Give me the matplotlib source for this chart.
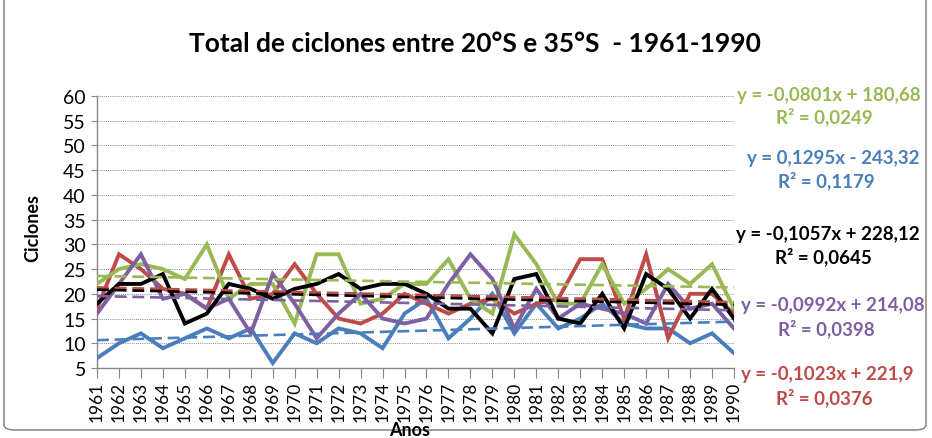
import numpy as np
import matplotlib
matplotlib.use("Agg")
import matplotlib.pyplot as plt
from matplotlib.patches import FancyBboxPatch

plt.rcParams['font.family'] = ['Lato', 'DejaVu Sans']

# Anos (categorias) e numero de ciclones por serie
anos = [1961, 1962, 1963, 1964, 1965, 1966, 1967, 1968, 1969, 1970,
        1971, 1972, 1973, 1974, 1975, 1976, 1977, 1978, 1979, 1980,
        1981, 1982, 1983, 1984, 1985, 1986, 1987, 1988, 1989, 1990]

verde = [22, 25, 26, 25, 23, 30, 19, 22, 22, 14, 28, 28, 18, 19, 22,
         22, 27, 19, 16, 32, 26, 18, 18, 26, 18, 21, 25, 22, 26, 17]
azul = [7, 10, 12, 9, 11, 13, 11, 13, 6, 12, 10, 13, 12, 9, 16,
        19, 11, 15, 20, 12, 18, 13, 15, 18, 14, 13, 13, 10, 12, 8]
preto = [18, 22, 22, 24, 14, 16, 22, 21, 19, 21, 22, 24, 21, 22, 22,
         20, 17, 17, 12, 23, 24, 15, 14, 20, 13, 24, 21, 15, 21, 15]
roxo = [16, 22, 28, 19, 20, 17, 19, 12, 24, 18, 11, 16, 20, 15, 14,
        15, 22, 28, 23, 13, 21, 15, 18, 17, 16, 14, 22, 17, 18, 13]
vermelho = [17, 28, 25, 21, 20, 17, 28, 19, 20, 26, 20, 15, 14, 16, 20,
            18, 16, 18, 19, 16, 18, 19, 27, 27, 15, 28, 11, 20, 20, 16]

# coeficientes das linhas de tendencia (como impressos no grafico)
inclinacoes = {"azul": 0.1295, "vermelho": -0.1023, "verde": -0.0801,
               "roxo": -0.0992, "preto": -0.1057}
interceptos = {"azul": -243.32, "vermelho": 221.9, "verde": 180.68,
               "roxo": 214.08, "preto": 228.12}
equacoes = {"verde": ("y = -0,0801x + 180,68", "R² = 0,0249"),
            "azul": ("y = 0,1295x - 243,32", "R² = 0,1179"),
            "preto": ("y = -0,1057x + 228,12", "R² = 0,0645"),
            "roxo": ("y = -0,0992x + 214,08", "R² = 0,0398"),
            "vermelho": ("y = -0,1023x + 221,9", "R² = 0,0376")}

cores = {"azul": "#4A7EBB", "vermelho": "#BE4B48", "verde": "#98B954",
         "roxo": "#7D60A0", "preto": "#000000"}
series = {"azul": azul, "vermelho": vermelho, "verde": verde,
          "roxo": roxo, "preto": preto}

W, H = 932, 439
fig = plt.figure(figsize=(W / 100, H / 100), dpi=100)

# moldura do grafico
moldura = FancyBboxPatch((4 / W, 8 / H), 922 / W, 440 / H,
                         boxstyle="round,pad=0,rounding_size=0.012",
                         transform=fig.transFigure, fill=False,
                         edgecolor="#8C8C8C", linewidth=1.2, clip_on=False)
fig.patches.append(moldura)

ax = fig.add_axes([97 / W, 1 - 369 / H, (734 - 97) / W, (369 - 97) / H])

x = np.array(anos)
for nome in ["azul", "vermelho", "verde", "roxo", "preto"]:
    ax.plot(x, series[nome], color=cores[nome], linewidth=2.8,
            solid_joinstyle="miter", zorder=3)
for nome in ["azul", "vermelho", "verde", "roxo", "preto"]:
    tend = inclinacoes[nome] * x + interceptos[nome]
    ax.plot(x, tend, color=cores[nome], linewidth=1.9,
            linestyle=(0, (4.5, 2.2)), zorder=4)

ax.set_xlim(1961, 1990)
ax.set_ylim(5, 60)
ax.set_yticks(range(5, 61, 5))
ax.set_xticks(anos)
ax.set_xticklabels([str(a) for a in anos], rotation=90, fontsize=12.5)
ax.tick_params(axis="y", labelsize=14, length=4, color="#868686", pad=4)
ax.tick_params(axis="x", length=7, color="#868686", pad=2)
ax.grid(axis="y", color="#868686", linestyle=(0, (1, 1.2)), linewidth=0.7)
ax.set_axisbelow(True)
for lado in ["top", "right"]:
    ax.spines[lado].set_visible(False)
for lado in ["left", "bottom"]:
    ax.spines[lado].set_color("#868686")
    ax.spines[lado].set_linewidth(1.0)

fig.text(475 / W, 1 - 44 / H, "Total de ciclones entre 20°S e 35°S  - 1961-1990",
         ha="center", va="center", fontsize=19, fontweight="bold")
fig.text(33 / W, 1 - 228 / H, "Ciclones", rotation=90, ha="center",
         va="center", fontsize=13, fontweight="bold")
fig.text(410 / W, 1 - 431 / H, "Anos", ha="center", va="center",
         fontsize=13, fontweight="bold")

# textos das equacoes a direita
posicoes = {"verde": (829, 96, 824, 117), "azul": (833, 159, 826, 181),
            "preto": (828, 235, 823, 257), "roxo": (833, 306, 826, 329),
            "vermelho": (827, 375, 824, 398)}
for nome, (x1, y1, x2, y2) in posicoes.items():
    eq, r2 = equacoes[nome]
    fig.text(x1 / W, 1 - y1 / H, eq, ha="center", va="center",
             fontsize=13.5, fontweight="bold", color=cores[nome])
    fig.text(x2 / W, 1 - y2 / H, r2, ha="center", va="center",
             fontsize=13.5, fontweight="bold", color=cores[nome])

fig.savefig("out.png", dpi=100)
